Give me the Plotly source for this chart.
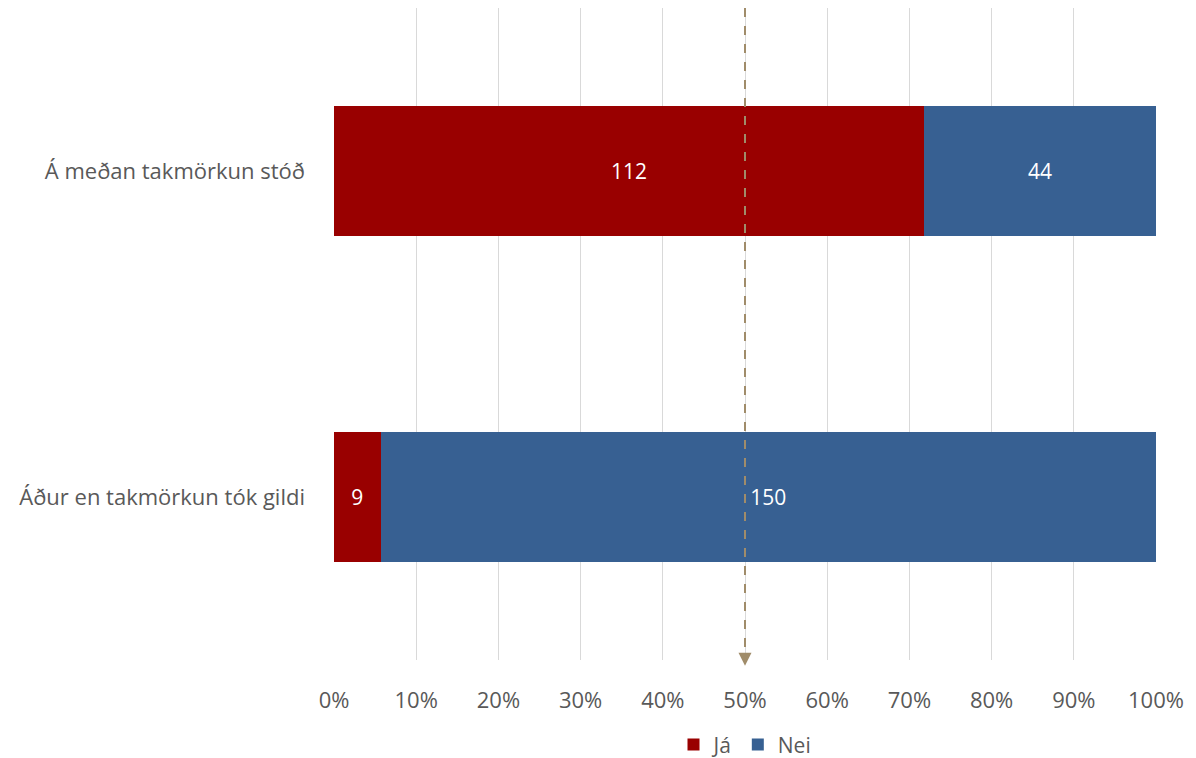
import plotly.graph_objects as go

categories = ["Áður en takmörkun tók gildi", "Á meðan takmörkun stóð"]
ja_values = [9, 112]
nei_values = [150, 44]
series_names = ["Já", "Nei"]
tick_vals = [0, 0.1, 0.2, 0.3, 0.4, 0.5, 0.6, 0.7, 0.8, 0.9, 1.0]
tick_labels = ["0%", "10%", "20%", "30%", "40%", "50%", "60%", "70%", "80%", "90%", "100%"]

FONT = "'Open Sans', Lato, sans-serif"
fig = go.Figure()
fig.add_trace(go.Bar(
    y=categories, x=ja_values, name=series_names[0], orientation="h",
    marker=dict(color="#990000", line=dict(width=0)),
    text=ja_values, textposition="inside", insidetextanchor="middle",
    textfont=dict(color="white", size=21, family=FONT),
))
fig.add_trace(go.Bar(
    y=categories, x=nei_values, name=series_names[1], orientation="h",
    marker=dict(color="#376092", line=dict(width=0)),
    text=nei_values, textposition="inside", insidetextanchor="middle",
    textfont=dict(color="white", size=21, family=FONT),
))

fig.update_layout(
    barmode="stack", barnorm="fraction", bargap=0.6,
    width=1196, height=758,
    margin=dict(l=334, r=40, t=8, b=98, autoexpand=False),
    plot_bgcolor="white", paper_bgcolor="white",
    font=dict(family=FONT, size=22, color="#595959"),
    showlegend=True,
    legend=dict(orientation="h", x=0.5, xanchor="center", y=-0.13, yanchor="middle",
                font=dict(size=21, color="#595959"), traceorder="normal"),
    xaxis=dict(range=[0, 1], tickvals=tick_vals, ticktext=tick_labels, automargin=False,
               showgrid=True, gridcolor="#D9D9D9", gridwidth=1,
               zeroline=False, showline=False, ticks="", ticklabelstandoff=25,
               tickfont=dict(size=22, color="#595959")),
    yaxis=dict(categoryorder="array", categoryarray=categories, automargin=False,
               showgrid=False, showline=False, zeroline=False, ticks="",
               ticklabelstandoff=28, tickfont=dict(size=22, color="#595959")),
)

# dashed 50% line with arrowhead
fig.add_shape(type="line", xref="x", yref="paper", x0=0.5, x1=0.5, y0=1.0, y1=0.0,
              line=dict(color="#A08C6A", width=2, dash="dash"))
fig.add_annotation(xref="x", yref="paper",
                   x=0.5, y=-0.009, ax=0, ay=-12, text="", showarrow=True,
                   arrowhead=2, arrowsize=1.3, arrowwidth=2, arrowcolor="#A08C6A")

fig.write_html("out.html", post_script="document.body.style.margin='0';",
               config={"displayModeBar": False})
